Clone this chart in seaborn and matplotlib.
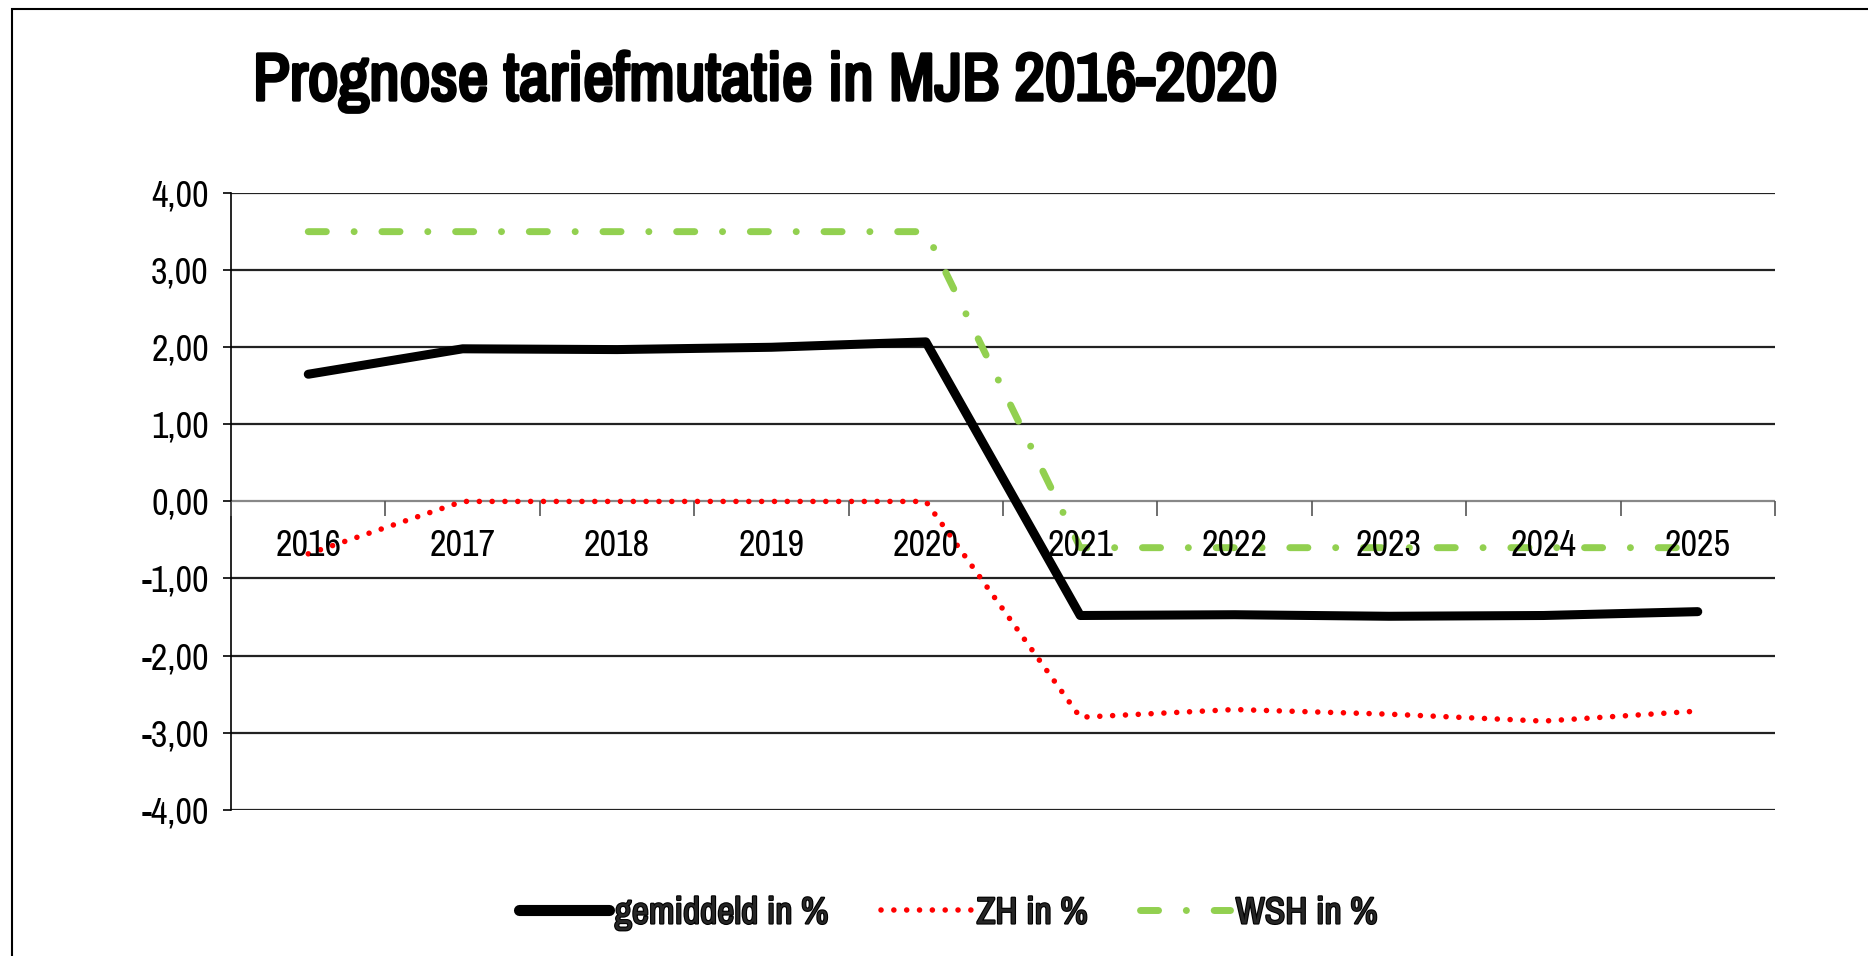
import numpy as np
import pandas as pd
import matplotlib
matplotlib.use('Agg')
import matplotlib.pyplot as plt
import matplotlib.patheffects as pe
from matplotlib import font_manager
from matplotlib.patches import Rectangle
from matplotlib.ticker import FuncFormatter
import seaborn as sns

#### data ###########################################################
years = ['2016', '2017', '2018', '2019', '2020', '2021', '2022', '2023', '2024', '2025']
gemiddeld = [1.65, 1.98, 1.97, 2.00, 2.07, -1.48, -1.47, -1.49, -1.48, -1.43]
zh = [-0.68, 0.00, 0.00, 0.00, 0.00, -2.80, -2.70, -2.76, -2.85, -2.72]
wsh = [3.50, 3.50, 3.50, 3.50, 3.50, -0.60, -0.60, -0.60, -0.60, -0.60]
series_names = ['gemiddeld in %', 'ZH in %', 'WSH in %']
y_ticks = [-4, -3, -2, -1, 0, 1, 2, 3, 4]
title = 'Prognose tariefmutatie in MJB 2016-2020'

df = pd.DataFrame({'jaar': years, series_names[0]: gemiddeld,
                   series_names[1]: zh, series_names[2]: wsh})
long = df.melt(id_vars='jaar', var_name='reeks', value_name='waarde')

#### style ###########################################################
sns.set_theme(style='white')
available = {f.name for f in font_manager.fontManager.ttflist}
fams = [f for f in ['Archivo Narrow', 'Roboto Condensed', 'Liberation Sans Narrow'] if f in available]
plt.rcParams['font.family'] = fams + ['Liberation Sans', 'DejaVu Sans']
bold = [pe.withStroke(linewidth=1.6, foreground='black')]

styles = {
    'gemiddeld in %': dict(color='black', linewidth=6.5, linestyle='-'),
    'ZH in %': dict(color='#ff0000', linewidth=4.0, linestyle=(0, (0.01, 2.3))),
    'WSH in %': dict(color='#92d050', linewidth=5.0, linestyle=(0, (2.6, 4.0, 0.01, 4.0))),
}

fig = plt.figure(figsize=(18.68, 9.56), dpi=100)
ax = fig.add_axes([0.1237, 0.153, 0.8265, 0.645])

# horizontal gridlines below the lines
for v in y_ticks:
    ax.axhline(v, color='#888888' if v == 0 else '#222222', lw=1.6, zorder=1)

for name in ['WSH in %', 'ZH in %', 'gemiddeld in %']:
    sub = long[long['reeks'] == name]
    sns.lineplot(data=sub, x='jaar', y='waarde', ax=ax, label=name, **styles[name])

for line in ax.get_lines()[len(y_ticks):]:
    line.set_dash_capstyle('round')
    line.set_solid_capstyle('round')
    line.set_solid_joinstyle('round')
    line.set_zorder(2)

ax.set_xlim(-0.5, 9.5)
ax.set_ylim(-4, 4)
ax.set_xlabel('')
ax.set_ylabel('')

# x axis crosses at 0, ticks between categories, labels at categories
ax.spines['bottom'].set_position(('data', 0))
ax.spines['bottom'].set_visible(False)
ax.spines['top'].set_visible(False)
ax.spines['right'].set_visible(False)
ax.spines['left'].set_color('black')
ax.spines['left'].set_linewidth(1.2)
ax.set_xticks(np.arange(-0.5, 10, 1))
ax.set_xticklabels([''] * 11)
ax.set_xticks(np.arange(len(years)), minor=True)
ax.set_xticklabels(years, minor=True)
ax.tick_params(axis='x', which='major', direction='out', length=11, width=1.2,
               color='#555555', bottom=True)
ax.tick_params(axis='x', which='minor', length=0, pad=20, labelsize=26,
               labelcolor='black', bottom=True)

ax.set_yticks(y_ticks)
ax.yaxis.set_major_formatter(FuncFormatter(lambda v, p: f'{v:.2f}'.replace('.', ',')))
ax.tick_params(axis='y', direction='out', length=6, width=1.2, color='black',
               pad=10, labelsize=26, labelcolor='black', left=True)
ax.set_axisbelow(False)
ax.grid(False)

ax.get_legend().remove()
handles, labels = ax.get_legend_handles_labels()
order = [labels.index(n) for n in series_names]
leg = fig.legend([handles[i] for i in order], [labels[i] for i in order],
                 loc='center', bbox_to_anchor=(0.5076, 0.045), ncol=3, frameon=False,
                 prop={'weight': 'bold', 'size': 27}, handlelength=2.4,
                 handletextpad=0.15, columnspacing=1.4)
for t in leg.get_texts():
    t.set_path_effects(bold)
leg.get_lines()[0].set_linewidth(8)

fig.text(0.1354, 1 - 100 / 956, title, fontsize=48.3, fontweight='bold',
         ha='left', va='baseline', color='black',
         path_effects=[pe.withStroke(linewidth=2.4, foreground='black')])

fig.add_artist(Rectangle((12 / 1868, -0.1), 1.5, 1.1 - 9 / 956, transform=fig.transFigure,
                         fill=False, ec='black', lw=1.5, clip_on=False))

fig.savefig('out.png', dpi=100)
